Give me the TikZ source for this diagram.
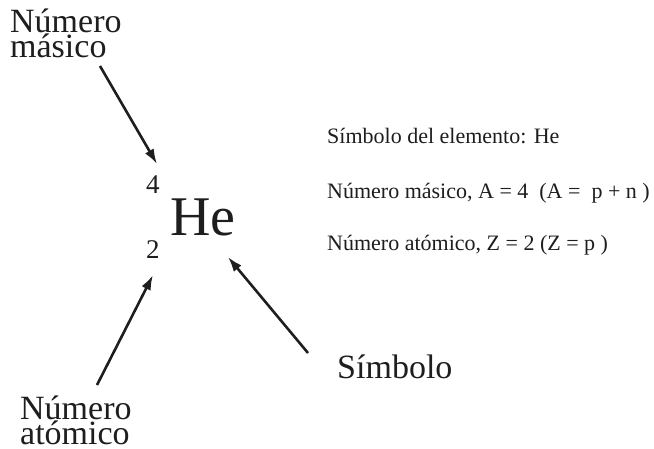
\documentclass[tikz,border=0pt]{standalone}
\usepackage{fontspec}
\setmainfont{Liberation Serif}
\usetikzlibrary{arrows.meta}
\definecolor{ink}{HTML}{1E1E1E}
\begin{document}
\begin{tikzpicture}[x=1pt,y=-1pt,
  biglabel/.style={anchor=base west,inner sep=0pt,text=ink,font=\fontsize{34}{25}\selectfont,align=left},
  info/.style={anchor=base west,inner sep=0pt,text=ink,font=\fontsize{22}{24}\selectfont},
  arr/.style={draw=ink,line width=2.6pt,-{Latex[length=15pt,width=10pt]}}]
\useasboundingbox[fill=white] (0,0) rectangle (654,448);
% labels
\node[biglabel] (masico) at (10,57) {Número\\másico};
\node[biglabel] (atomico) at (20,444) {Número\\atómico};
\node[biglabel] (simb) at (337,378) {Símbolo};
% element
\node[anchor=base west,inner sep=0pt,text=ink,font=\fontsize{56}{60}\selectfont] (he) at (170,235) {He};
\node[anchor=base west,inner sep=0pt,text=ink,font=\fontsize{27}{30}\selectfont] (mass) at (146,193) {4};
\node[anchor=base west,inner sep=0pt,text=ink,font=\fontsize{27}{30}\selectfont] (num) at (146,258) {2};
% info lines
\node[info] (l1) at (327,143) {Símbolo del elemento: He};
\node[info] (l2) at (327,198) {Número másico, A = 4~ (A = ~p + n )};
\node[info] (l3) at (327,250) {Número atómico, Z = 2 (Z = p )};
% arrow ends
\coordinate (s1) at (100,66);
\coordinate (e1) at (157,164);
\coordinate (s2) at (97,385);
\coordinate (e2) at (153,275);
\coordinate (s3) at (308,353);
\coordinate (e3) at (228,257);
\draw[arr] (s1) -- (e1);
\draw[arr] (s2) -- (e2);
\draw[arr] (s3) -- (e3);
\end{tikzpicture}
\end{document}
